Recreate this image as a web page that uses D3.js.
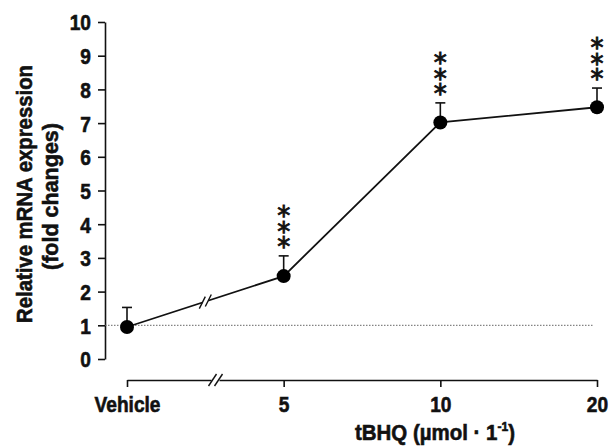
<!DOCTYPE html>
<html>
<head>
<meta charset="utf-8">
<script src="https://cdn.jsdelivr.net/npm/d3@7"></script>
<style>
body { margin: 0; background: #fff; }
svg text { font-family: "Liberation Sans", Arial, sans-serif; font-weight: bold; fill: #111; stroke: #111; stroke-width: 0.6px; }
</style>
</head>
<body>
<svg id="chart" width="609" height="446"></svg>
<script>
var CATEGORIES = ["Vehicle", "5", "10", "20"]
var MEANS = [0.95, 2.46, 7.02, 7.47]
var ERRORS = [0.58, 0.6, 0.58, 0.57]
var STARS = ["", "***", "***", "***"]
var Y_TICKS = [0, 1, 2, 3, 4, 5, 6, 7, 8, 9, 10]
var BASELINE = 1

var squeeze = 0.87 // fake a narrow font

var svg = d3.select("#chart")

var x = d3.scalePoint().domain(CATEGORIES).range([127, 597])
var y = d3.scaleLinear().domain([0, 10]).range([359, 22])

var data = CATEGORIES.map(function(c, i){
	return {cat: c, mean: MEANS[i], err: ERRORS[i], stars: STARS[i]}
})

// y axis
var yAxis = svg.append("g")
	.attr("transform", "translate(105,0)")
	.call(d3.axisLeft(y).tickValues(Y_TICKS).tickSize(7).tickSizeOuter(0))
yAxis.selectAll("path, line").attr("stroke", "#111").attr("stroke-width", 1.6)
yAxis.selectAll("text")
	.attr("font-size", 22)
	.attr("x", -14 / squeeze)
	.attr("dy", "0.36em")
	.attr("transform", "scale(" + squeeze + ",1)")

// x axis
var xAxis = svg.append("g")
	.attr("transform", "translate(0,380)")
	.call(d3.axisBottom(x).tickSize(7).tickSizeOuter(0))
xAxis.selectAll("path, line").attr("stroke", "#111").attr("stroke-width", 1.6)
xAxis.selectAll("text")
	.attr("font-size", 22)
	.attr("x", 0)
	.attr("y", 32)
	.attr("dy", 0)
	.attr("transform", "scale(" + squeeze + ",1)")

// axis break on x axis
var bx = x("Vehicle") + (x("5") - x("Vehicle")) * 0.565
svg.append("rect").attr("x", bx - 4).attr("y", 376).attr("width", 8).attr("height", 8).attr("fill", "#fff")
;[-3, 3].forEach(function(o){
	svg.append("line")
		.attr("x1", bx + o - 4).attr("y1", 386)
		.attr("x2", bx + o + 4).attr("y2", 374)
		.attr("stroke", "#111").attr("stroke-width", 1.4)
})

// baseline
svg.append("line")
	.attr("x1", 105).attr("x2", 594)
	.attr("y1", y(BASELINE)).attr("y2", y(BASELINE))
	.attr("stroke", "#666").attr("stroke-width", 1).attr("stroke-dasharray", "1.5,1.5")

// connecting line
svg.append("path")
	.datum(data)
	.attr("fill", "none")
	.attr("stroke", "#111")
	.attr("stroke-width", 1.8)
	.attr("d", d3.line().x(function(d){ return x(d.cat) }).y(function(d){ return y(d.mean) }))

// break on the data line
var p0 = data[0], p1 = data[1]
var lx = x(p0.cat) + (x(p1.cat) - x(p0.cat)) * 0.5
var ly = y(p0.mean) + (y(p1.mean) - y(p0.mean)) * 0.5
svg.append("rect").attr("x", lx - 3).attr("y", ly - 6).attr("width", 6).attr("height", 12).attr("fill", "#fff")
	.attr("transform", "rotate(-20," + lx + "," + ly + ")")
;[-3, 3].forEach(function(o){
	svg.append("line")
		.attr("x1", lx + o - 3).attr("y1", ly + 6 - o * 0.36)
		.attr("x2", lx + o + 3).attr("y2", ly - 6 - o * 0.36)
		.attr("stroke", "#111").attr("stroke-width", 1.4)
})

// error bars
var eb = svg.selectAll(".err").data(data).enter().append("g").attr("class", "err")
eb.append("line")
	.attr("x1", function(d){ return x(d.cat) }).attr("x2", function(d){ return x(d.cat) })
	.attr("y1", function(d){ return y(d.mean) }).attr("y2", function(d){ return y(d.mean + d.err) })
	.attr("stroke", "#111").attr("stroke-width", 1.6)
eb.append("line")
	.attr("x1", function(d){ return x(d.cat) - 5 }).attr("x2", function(d){ return x(d.cat) + 5 })
	.attr("y1", function(d){ return y(d.mean + d.err) }).attr("y2", function(d){ return y(d.mean + d.err) })
	.attr("stroke", "#111").attr("stroke-width", 1.6)

// points
svg.selectAll(".pt").data(data).enter().append("circle")
	.attr("class", "pt")
	.attr("cx", function(d){ return x(d.cat) })
	.attr("cy", function(d){ return y(d.mean) })
	.attr("r", 7)
	.attr("fill", "#000")

// significance stars: one text run turned downwards, each glyph turned back upright
var starSize = 26
var starGap = 15.5
var starHalfW = starSize * 0.25
data.forEach(function(d){
	if(!d.stars) return
	var n = d.stars.length
	var bottomCentre = y(d.mean + d.err) - 15
	var topOrigin = bottomCentre - (n - 1) * starGap + starSize * 0.59
	svg.append("text")
		.attr("transform", "translate(" + (x(d.cat) - starHalfW) + "," + topOrigin + ") rotate(90)")
		.attr("rotate", "-90")
		.attr("font-size", starSize)
		.attr("letter-spacing", starGap - starSize * 0.5)
		.style("font-family", "'DejaVu Sans', sans-serif")
		.style("font-weight", "normal")
		.style("stroke-width", "0.9px")
		.text(d.stars)
})

// y title
svg.append("text")
	.attr("transform", "translate(32,194) rotate(-90)")
	.attr("text-anchor", "middle")
	.attr("font-size", 22)
	.attr("textLength", 258)
	.attr("lengthAdjust", "spacingAndGlyphs")
	.text("Relative mRNA expression")
svg.append("text")
	.attr("transform", "translate(58,196.5) rotate(-90)")
	.attr("text-anchor", "middle")
	.attr("font-size", 22)
	.attr("textLength", 147)
	.attr("lengthAdjust", "spacingAndGlyphs")
	.text("(fold changes)")

// x title
var xt = svg.append("text")
	.attr("transform", "translate(435,440) scale(0.93,1)")
	.attr("text-anchor", "middle")
	.attr("font-size", 22)
xt.append("tspan").text("tBHQ (\u00b5mol \u00b7 1")
xt.append("tspan").attr("font-size", 13).attr("dy", -9).text("-1")
xt.append("tspan").attr("dy", 9).text(")")
</script>
</body>
</html>
